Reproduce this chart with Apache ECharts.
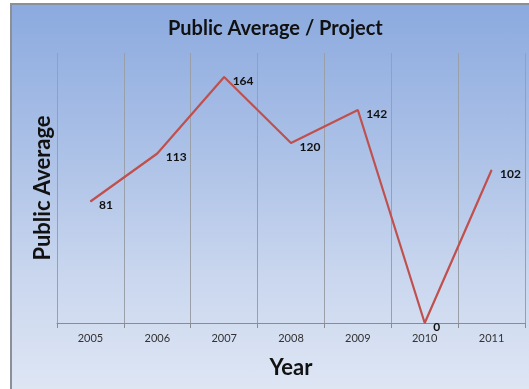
<!DOCTYPE html>
<html>
<head>
<meta charset="utf-8">
<script src="https://cdn.jsdelivr.net/npm/echarts@6/dist/echarts.min.js"></script>
<style>
html,body{margin:0;padding:0;background:#fff;}
#bg{position:absolute;left:10px;top:3px;width:519px;height:386px;border-left:2px solid #8a8f98;border-top:2px solid #8a8f98;box-sizing:border-box;background:linear-gradient(to bottom,#8caadf 0%,#a9bfe6 35%,#c9d6ee 70%,#dee6f4 100%);}
#main{position:absolute;left:0;top:0;width:529px;height:389px;}
</style>
</head>
<body>
<div id="bg"></div>
<div id="main"></div>
<script>
const categories = ['2005','2006','2007','2008','2009','2010','2011'];
const values = [81, 113, 164, 120, 142, 0, 102];
const titleText = 'Public Average / Project';
const xName = 'Year';
const yName = 'Public Average';

const chart = echarts.init(document.getElementById('main'), null, {renderer:'canvas'});
const font = 'Lato, "Open Sans", sans-serif';
chart.setOption({
  backgroundColor: 'transparent',
  animation: false,
  title: {
    text: titleText, left: 163, top: 14,
    textStyle: {fontFamily: font, fontSize: 20, fontWeight: 'bold', color: '#111'}
  },
  grid: {left: 57, right: 4, top: 53, bottom: 66},
  xAxis: {
    type: 'category', data: categories, boundaryGap: true,
    name: xName, nameLocation: 'middle', nameGap: 34,
    nameTextStyle: {fontFamily: font, fontSize: 22, fontWeight: 'bold', color: '#111'},
    axisLine: {lineStyle: {color: '#8c8c8c', width: 1}},
    axisTick: {show: true, length: 5, lineStyle: {color: '#8c8c8c'}},
    axisLabel: {fontFamily: font, fontSize: 11, color: '#333', margin: 10},
    splitLine: {show: true, lineStyle: {color: '#9aa0aa', width: 1}}
  },
  yAxis: {
    type: 'value', min: 0, max: 180,
    name: yName, nameLocation: 'middle', nameRotate: 90, nameGap: 3,
    nameTextStyle: {fontFamily: font, fontSize: 22, fontWeight: 'bold', color: '#111'},
    axisLine: {show: false}, axisTick: {show: false}, axisLabel: {show: false},
    splitLine: {show: false}
  },
  series: [{
    type: 'line', data: values,
    symbol: 'circle', symbolSize: 1,
    itemStyle: {color: '#c0504d'},
    lineStyle: {color: '#c0504d', width: 2.2},
    label: {
      show: true, position: 'right', distance: 8, offset: [0, 4],
      fontFamily: font, fontSize: 12, fontWeight: 'bold', color: '#111'
    }
  }]
});
</script>
</body>
</html>
